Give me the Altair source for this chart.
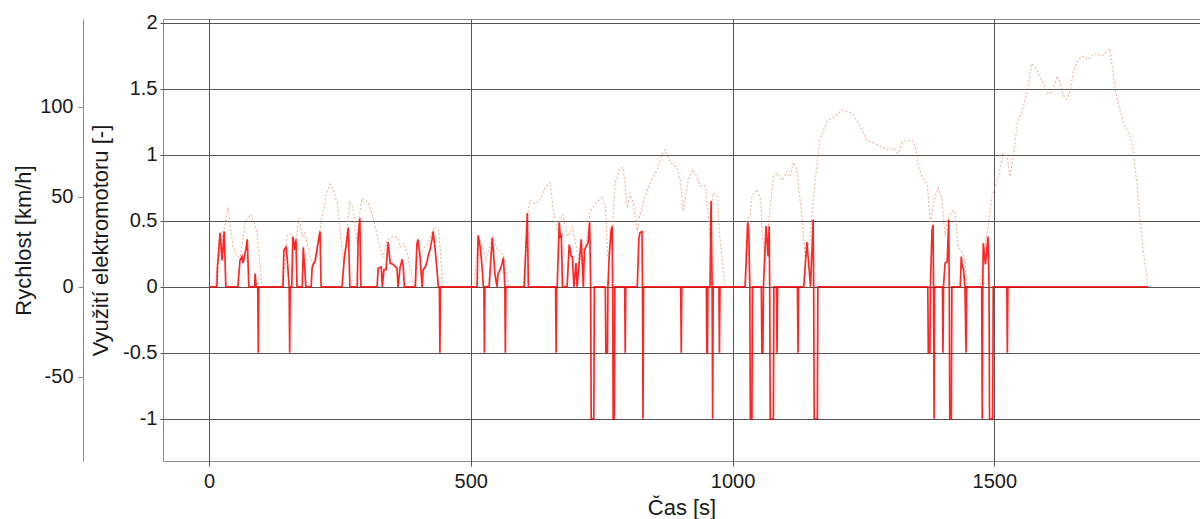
import altair as alt
import pandas as pd

# Vehicle speed over the drive cycle: (time [s], speed [km/h])
speed_samples = [
    (0, 0), (11, 0), (15, 9), (25, 26), (36, 44), (46, 22), (59, 15), (69, 36),
    (80, 40), (88, 34), (92, 29), (101, 0), (141, 0), (149, 28), (157, 30),
    (164, 21), (172, 38), (178, 28), (183, 30), (191, 19), (199, 12), (206, 21),
    (216, 39), (224, 51), (231, 57), (237, 54), (245, 46), (250, 33), (256, 14),
    (260, 21), (269, 47), (275, 44), (283, 23), (287, 39), (292, 49), (304, 47),
    (313, 39), (323, 26), (332, 16), (340, 26), (352, 28), (361, 27), (365, 22),
    (373, 24), (380, 17), (390, 2), (394, 0), (396, 15), (409, 21), (418, 24),
    (430, 33), (438, 32), (441, 23), (447, 0), (506, 0), (514, 28), (522, 23),
    (529, 15), (541, 28), (550, 21), (562, 18), (567, 9), (573, 0), (600, 0),
    (606, 21), (609, 41), (613, 48), (623, 46), (632, 48), (642, 55), (652, 58),
    (657, 43), (665, 32), (671, 37), (676, 40), (684, 28), (694, 33), (699, 25),
    (707, 15), (715, 15), (722, 26), (728, 42), (741, 47), (751, 50), (757, 44),
    (762, 16), (770, 32), (776, 58), (785, 66), (791, 66), (799, 44), (804, 52),
    (810, 47), (818, 30), (823, 40), (833, 50), (843, 58), (856, 65), (866, 74),
    (871, 76), (881, 69), (894, 66), (900, 59), (906, 42), (915, 59), (923, 65),
    (932, 61), (938, 56), (948, 56), (957, 28), (963, 52), (971, 50), (976, 26),
    (986, 0), (1024, 0), (1028, 36), (1034, 41), (1037, 50), (1047, 54),
    (1053, 49), (1058, 26), (1062, 14), (1070, 39), (1078, 61), (1085, 63),
    (1095, 59), (1104, 64), (1110, 61), (1116, 69), (1123, 65), (1133, 37),
    (1139, 15), (1148, 28), (1158, 59), (1167, 82), (1181, 92), (1192, 94),
    (1209, 98), (1230, 96), (1244, 89), (1257, 81), (1269, 80), (1282, 78),
    (1295, 76), (1307, 77), (1316, 74), (1326, 81), (1343, 81), (1349, 78),
    (1355, 67), (1362, 61), (1372, 57), (1378, 36), (1387, 50), (1393, 55),
    (1400, 49), (1406, 28), (1410, 37), (1420, 42), (1425, 42), (1431, 22),
    (1439, 19), (1444, 14), (1448, 0), (1473, 0), (1479, 19), (1488, 32),
    (1496, 51), (1506, 59), (1517, 74), (1525, 72), (1530, 61), (1538, 76),
    (1544, 91), (1553, 97), (1563, 109), (1572, 124), (1584, 119), (1593, 113),
    (1603, 107), (1611, 108), (1620, 117), (1626, 113), (1632, 106), (1639, 104),
    (1645, 109), (1651, 119), (1660, 126), (1670, 128), (1679, 126), (1689, 129),
    (1699, 129), (1706, 128), (1716, 131), (1721, 132), (1731, 109), (1741, 97),
    (1750, 89), (1760, 83), (1765, 76), (1773, 56), (1779, 36), (1785, 19),
    (1794, 0),
]

# Electric motor utilisation: (time [s], share [-]); negative = recuperation
motor_samples = [
    (0, 0), (15, 0), (16, 0.15), (21, 0.41), (25, 0.2), (29, 0.42), (32, 0),
    (55, 0), (59, 0.2), (63, 0.23), (65, 0.18), (71, 0.3), (73, 0.36), (76, 0),
    (87, 0), (88, 0.1), (90, 0), (93, 0), (94, -0.5), (95, 0),
    (141, 0), (143, 0.28), (147, 0.3), (149, 0.23), (153, 0), (154, -0.5), (155, 0),
    (158, 0), (160, 0.38), (164, 0.28), (166, 0.36), (168, 0),
    (178, 0), (180, 0.3), (182, 0.18), (185, 0),
    (195, 0), (197, 0.15), (203, 0.2), (208, 0.33), (212, 0.42), (214, 0),
    (254, 0), (258, 0.2), (264, 0.38), (266, 0.45), (269, 0),
    (283, 0), (285, 0.39), (288, 0.52), (290, 0),
    (321, 0), (323, 0.14), (329, 0.15), (331, 0), (334, 0.13), (338, 0.13),
    (342, 0.34), (346, 0.18), (352, 0.17), (359, 0.14), (361, 0), (365, 0.15),
    (369, 0.21), (371, 0.15), (373, 0),
    (394, 0), (397, 0.32), (399, 0.36), (403, 0.23), (407, 0), (409, 0.13),
    (413, 0.15), (417, 0.2), (418, 0.23), (422, 0.28), (426, 0.36), (428, 0.42),
    (432, 0.28), (436, 0.1), (438, 0), (440, 0), (441, -0.5), (442, 0),
    (512, 0), (514, 0.39), (518, 0.3), (522, 0.13), (524, 0), (525, 0),
    (526, -0.5), (527, 0),
    (535, 0), (537, 0.13), (541, 0.37), (543, 0.28), (546, 0.1), (550, 0),
    (552, 0.1), (556, 0.13), (560, 0.18), (562, 0.22), (564, 0.1), (565, 0),
    (566, -0.5), (567, 0),
    (602, 0), (608, 0.56), (610, 0),
    (662, 0), (663, -0.5), (664, 0), (665, 0), (669, 0.49), (671, 0.38),
    (673, 0.39), (675, 0),
    (684, 0), (688, 0.32), (692, 0.23), (694, 0.23), (697, 0), (701, 0.18),
    (703, 0), (707, 0.18), (711, 0.36), (715, 0), (717, 0.28), (722, 0.32),
    (724, 0.33), (727, 0.49), (729, 0), (730, -1), (735, -1), (736, 0),
    (757, 0), (758, -0.5), (761, -0.5), (762, 0), (764, 0.2), (768, 0.43),
    (770, 0.46), (771, 0), (772, -1), (774, -1), (775, 0),
    (794, 0), (795, -0.5), (796, 0),
    (818, 0), (821, 0.36), (823, 0.41), (827, 0.42), (828, 0), (829, -1), (830, 0),
    (901, 0), (902, -0.5), (903, 0),
    (950, 0), (951, -0.5), (952, -0.5), (953, 0),
    (957, 0), (959, 0.65), (961, 0), (962, -1), (963, 0),
    (974, 0), (975, -0.5), (976, 0),
    (1024, 0), (1029, 0.49), (1031, 0.41), (1033, 0), (1034, -1), (1037, -1),
    (1038, 0),
    (1055, 0), (1056, -0.5), (1058, -0.5), (1059, 0), (1064, 0.46), (1068, 0.23),
    (1070, 0.46), (1071, 0), (1072, -1), (1078, -1), (1079, 0),
    (1084, 0), (1085, -0.5), (1086, 0),
    (1124, 0), (1125, -0.5), (1126, 0),
    (1136, 0), (1142, 0.34), (1146, 0.15), (1149, 0), (1154, 0.51), (1155, 0),
    (1156, -1), (1162, -1), (1163, 0),
    (1373, 0), (1374, -0.5), (1377, -0.5), (1378, 0), (1381, 0.43), (1383, 0.47),
    (1384, 0), (1385, -1), (1386, 0),
    (1401, 0), (1402, -0.5), (1403, 0), (1406, 0.18), (1410, 0.19), (1413, 0.51),
    (1414, 0), (1415, -1), (1418, -1), (1419, 0),
    (1435, 0), (1437, 0.23), (1439, 0.15), (1441, 0.14), (1444, 0), (1446, -0.5),
    (1447, 0),
    (1476, 0), (1477, -1), (1478, 0), (1479, 0.33), (1483, 0.17), (1488, 0.38),
    (1490, 0), (1491, -1), (1497, -1), (1498, 0),
    (1524, 0), (1525, -0.5), (1526, 0),
    (1794, 0),
]

time_ticks = [0, 500, 1000, 1500]
motor_ticks = [-1, -0.5, 0, 0.5, 1, 1.5, 2]
speed_ticks = [-50, 0, 50, 100]

speed_df = pd.DataFrame(speed_samples, columns=["cas", "rychlost"])
speed_df["poradi"] = range(len(speed_df))
motor_df = pd.DataFrame(motor_samples, columns=["cas", "vyuziti"])
motor_df["poradi"] = range(len(motor_df))

FONT = "Liberation Sans"
TEXT = "#1a1a1a"
PLAIN = "'' + datum.value"  # plain numbers: no thousands separator, ASCII minus

x_scale = alt.Scale(domain=[-88, 1893], nice=False, zero=False)
x_axis = alt.Axis(
    values=time_ticks, title="Čas [s]", grid=True, gridColor="#555555",
    gridWidth=1, domain=False, ticks=True, tickSize=5, tickColor="#555555",
    labelFont=FONT, labelFontSize=20, labelColor=TEXT, labelExpr=PLAIN,
    labelBaseline="alphabetic", labelPadding=21,
    titleFont=FONT, titleFontSize=22, titleFontWeight="normal", titleColor=TEXT,
    titleBaseline="alphabetic", titleY=53,
)

speed_layer = alt.Chart(speed_df).mark_line(
    color="#ea9a7c", strokeWidth=1.1, strokeDash=[2, 2], opacity=0.75
).encode(
    x=alt.X("cas:Q", scale=x_scale, axis=x_axis),
    y=alt.Y(
        "rychlost:Q",
        scale=alt.Scale(domain=[-96.7, 148.6], nice=False, zero=False),
        axis=alt.Axis(
            orient="left", offset=80, values=speed_ticks,
            title="Rychlost [km/h]", grid=False,
            domain=True, domainColor="#8a8a8a", domainWidth=1,
            ticks=True, tickSize=5, tickColor="#8a8a8a",
            labelFont=FONT, labelFontSize=20, labelColor=TEXT, labelPadding=5,
            labelExpr=PLAIN,
            titleFont=FONT, titleFontSize=22, titleFontWeight="normal",
            titleColor=TEXT, titleBaseline="middle", titleX=-60,
        ),
    ),
    order="poradi:Q",
)

motor_layer = alt.Chart(motor_df).mark_line(
    color="#ff0000", strokeWidth=1.7, opacity=0.85
).encode(
    x=alt.X("cas:Q", scale=x_scale, axis=x_axis),
    y=alt.Y(
        "vyuziti:Q",
        scale=alt.Scale(domain=[-1.32, 2.03], nice=False, zero=False),
        axis=alt.Axis(
            orient="left", values=motor_ticks,
            title="Využití elektromotoru [-]", grid=True,
            gridColor="#555555", gridWidth=1, domain=False,
            ticks=True, tickSize=3, tickColor="#555555",
            labelFont=FONT, labelFontSize=20, labelColor=TEXT, labelPadding=3,
            labelExpr=PLAIN,
            titleFont=FONT, titleFontSize=22, titleFontWeight="normal",
            titleColor=TEXT, titleBaseline="middle", titleX=-63,
        ),
    ),
    order="poradi:Q",
)

chart = (
    alt.layer(speed_layer, motor_layer)
    .resolve_scale(y="independent")
    .properties(
        width=1037,
        height=442,
        padding={"left": 163, "top": 19, "right": 0, "bottom": 58},
        autosize=alt.AutoSizeParams(type="none"),
        background="white",
    )
    .configure_view(stroke="#8a8a8a", strokeWidth=1)
)

chart.save("out.html", embed_options={"renderer": "svg", "actions": False})
